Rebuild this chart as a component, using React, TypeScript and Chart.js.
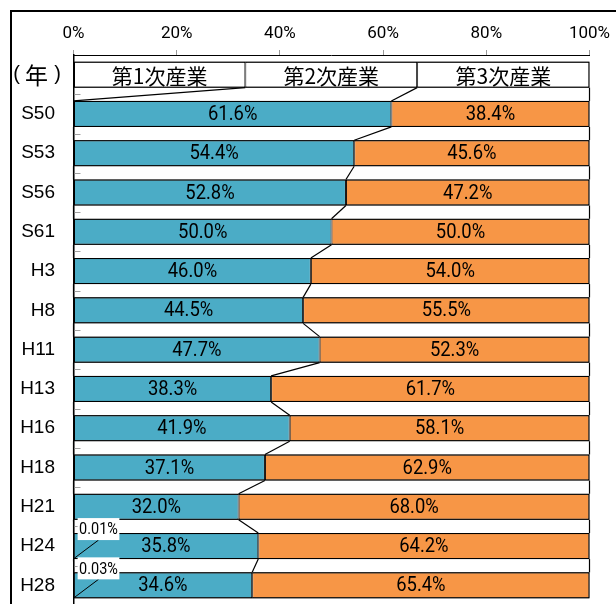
import { useEffect, useRef } from "react";
import { Chart, registerables } from "chart.js";

Chart.register(...registerables);

// Rows: header row first, then survey years
const years = ["（年）", "S50", "S53", "S56", "S61", "H3", "H8", "H11", "H13", "H16", "H18", "H21", "H24", "H28"];
const seriesNames = ["第1次産業", "第2次産業", "第3次産業"];
const headerShares = [33.3, 33.3, 33.4];
const primary = [0, 0, 0, 0, 0, 0, 0, 0, 0, 0, 0, 0.01, 0.03];
const secondary = [61.6, 54.4, 52.8, 50.0, 46.0, 44.5, 47.7, 38.3, 41.9, 37.1, 32.0, 35.8, 34.6];
const tertiary = [38.4, 45.6, 47.2, 50.0, 54.0, 55.5, 52.3, 61.7, 58.1, 62.9, 68.0, 64.2, 65.4];
const xTicks = [0, 20, 40, 60, 80, 100];

const seriesColors = ["#A6A6A6", "#4BACC6", "#F79646"];
const seriesValues = [primary, secondary, tertiary];

const LABEL_FONT = "20px Roboto";
const SMALL_FONT = "17px Roboto";
const JP_FONT = "21px 'Noto Sans CJK JP'";

// draw text condensed horizontally
function narrowText(ctx: CanvasRenderingContext2D, text: string, x: number, y: number, sx: number) {
  ctx.save();
  ctx.translate(x, y);
  ctx.scale(sx, 1);
  ctx.fillText(text, 0, 0);
  ctx.restore();
}

const overlay = {
  id: "overlay",
  afterDatasetsDraw(chart: any) {
    const { ctx, chartArea } = chart;
    const xs = chart.scales.x;
    const metas = [0, 1, 2].map((i) => chart.getDatasetMeta(i));
    const vals = chart.data.datasets.map((d: any) => d.data as number[]);
    const n = years.length;
    ctx.save();

    // heavier outline around each whole row
    ctx.strokeStyle = "#000";
    ctx.lineWidth = 1;
    for (let i = 0; i < n; i++) {
      const first = metas[0].data[i];
      const last = metas[2].data[i];
      const x0 = Math.min(first.base, first.x);
      const x1 = Math.min(Math.max(last.base, last.x), chartArea.right);
      const top = first.y - first.height / 2;
      ctx.strokeRect(x0 + 0.5, top + 0.5, x1 - x0 - 1, first.height - 1);
    }

    // small inside tick marks at category boundaries
    ctx.strokeStyle = "#a0a0a0";
    ctx.lineWidth = 1;
    for (let i = 0; i < n - 1; i++) {
      const y = Math.round((metas[0].data[i].y + metas[0].data[i + 1].y) / 2) + 0.5;
      ctx.beginPath();
      ctx.moveTo(chartArea.left + 1, y);
      ctx.lineTo(chartArea.left + 7, y);
      ctx.stroke();
    }

    // series lines joining segment ends of neighbouring bars
    ctx.strokeStyle = "#000";
    ctx.lineWidth = 1.2;
    for (let i = 0; i < n - 1; i++) {
      let c0 = 0;
      let c1 = 0;
      for (let k = 0; k < 3; k++) {
        c0 += vals[k][i];
        c1 += vals[k][i + 1];
        const a = metas[k].data[i];
        const b = metas[k].data[i + 1];
        ctx.beginPath();
        ctx.moveTo(xs.getPixelForValue(Math.min(c0, 100)), a.y + a.height / 2);
        ctx.lineTo(xs.getPixelForValue(Math.min(c1, 100)), b.y - b.height / 2);
        ctx.stroke();
      }
    }

    // value labels
    ctx.textAlign = "center";
    ctx.textBaseline = "middle";
    ctx.fillStyle = "#000";
    for (let k = 0; k < 3; k++) {
      metas[k].data.forEach((el: any, i: number) => {
        const v = vals[k][i];
        const cx = (el.x + el.base) / 2;
        if (i === 0) {
          ctx.font = JP_FONT;
          ctx.fillStyle = "#000";
          ctx.fillText(seriesNames[k], cx, el.y + 1);
          return;
        }
        if (k === 0) {
          if (v <= 0) return;
          const text = v.toFixed(2) + "%";
          ctx.font = SMALL_FONT;
          const w = ctx.measureText(text).width * 0.85 + 3;
          const lx = xs.getPixelForValue(0) + 25;
          const ly = el.y - 17;
          ctx.strokeStyle = "#000";
          ctx.lineWidth = 1;
          ctx.beginPath();
          ctx.moveTo(xs.getPixelForValue(0) + 1, el.y + el.height / 2 - 1);
          ctx.lineTo(lx, ly + 11);
          ctx.stroke();
          ctx.fillStyle = "#fff";
          ctx.fillRect(lx - w / 2, ly - 11, w, 22);
          ctx.fillStyle = "#000";
          narrowText(ctx, text, lx, ly + 1, 0.85);
          return;
        }
        ctx.font = LABEL_FONT;
        ctx.fillStyle = "#000";
        narrowText(ctx, v.toFixed(1) + "%", cx, el.y + 1, 0.92);
      });
    }
    ctx.restore();
  },
  afterDraw(chart: any) {
    const { ctx } = chart;
    const el = chart.getDatasetMeta(0).data[0];
    ctx.save();
    ctx.fillStyle = "#000";
    ctx.textAlign = "center";
    ctx.textBaseline = "middle";
    ctx.font = "20px 'Liberation Sans'";
    ctx.fillText("(", 4.5, el.y);
    ctx.fillText(")", 45.5, el.y);
    ctx.font = "23px 'Noto Sans CJK JP'";
    ctx.fillText("年", 24.5, el.y + 1);
    ctx.restore();
  },
};

export default function App() {
  const ref = useRef<HTMLCanvasElement>(null);

  useEffect(() => {
    const datasets = seriesNames.map((name, k) => ({
      label: name,
      data: [headerShares[k], ...seriesValues[k]],
      backgroundColor: years.map((_, i) => (i === 0 ? "#FFFFFF" : seriesColors[k])),
      borderColor: "#000",
      borderWidth: 1,
      borderSkipped: false as const,
      barPercentage: 0.662,
      categoryPercentage: 1,
    }));

    const chart = new Chart(ref.current!, {
      type: "bar",
      data: { labels: years, datasets },
      options: {
        indexAxis: "y",
        responsive: false,
        animation: false,
        events: [],
        layout: { padding: { left: 0, right: 22.5, top: 0, bottom: 7 } },
        plugins: { legend: { display: false }, tooltip: { enabled: false } },
        scales: {
          x: {
            type: "linear",
            position: "top",
            stacked: true,
            min: 0,
            max: 100,
            afterBuildTicks: (s: any) => {
              s.ticks = xTicks.map((v) => ({ value: v }));
            },
            afterFit: (s: any) => {
              s.height = 43;
              s.paddingLeft = 0;
              s.paddingRight = 0;
            },
            grid: { display: true, drawOnChartArea: false, drawTicks: true, tickLength: 5, color: "#999" },
            border: { display: true, color: "#000", width: 1 },
            ticks: {
              padding: 6,
              color: "#000",
              font: { family: "Roboto", size: 17 },
              callback: (v: any) => v + "%",
            },
          },
          y: {
            type: "category",
            stacked: true,
            afterFit: (s: any) => {
              s.width = 61.5;
              s.paddingTop = 0;
              s.paddingBottom = 0;
            },
            grid: { display: false, drawTicks: false },
            border: { display: true, color: "#000", width: 1.5 },
            ticks: {
              padding: 18.5,
              color: "#000",
              font: { family: "'Liberation Sans'", size: 19 },
              callback: (_v: any, i: number) => (i === 0 ? "" : years[i]),
            },
          },
        },
      },
      plugins: [overlay],
    });
    return () => chart.destroy();
  }, []);

  return (
    <div style={{ position: "fixed", left: 0, top: 0, width: 616, height: 604, overflow: "hidden", background: "#fff" }}>
      <div
        style={{
          position: "absolute",
          left: 10,
          top: 10,
          width: 640,
          height: 640,
          border: "2px solid #000",
          boxSizing: "border-box",
        }}
      >
        <canvas ref={ref} width={600} height={600} style={{ position: "absolute", left: 0, top: 0, width: 600, height: 600 }} />
      </div>
    </div>
  );
}
